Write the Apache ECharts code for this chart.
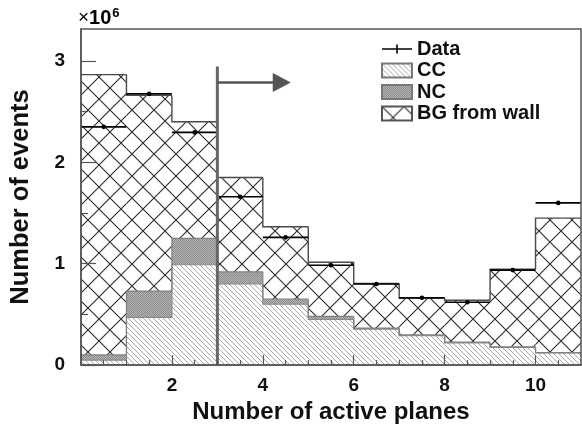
<!DOCTYPE html>
<html>
<head>
<meta charset="utf-8">
<script src="https://cdn.jsdelivr.net/npm/echarts@6.0.0/dist/echarts.min.js"></script>
<style>
html,body{margin:0;padding:0;background:#fff;}
#chart{width:582px;height:429px;}
</style>
</head>
<body>
<div id="chart"></div>
<script>
// ---- data (values in units of 10^6 events) ----
var binLow  = [0, 1, 2, 3, 4, 5, 6, 7, 8, 9, 10];
var binHigh = [1, 2, 3, 4, 5, 6, 7, 8, 9, 10, 11];
var ccValues = [0.05, 0.47, 0.99, 0.80, 0.60, 0.45, 0.355, 0.29, 0.22, 0.175, 0.12];
var ncValues = [0.05, 0.26, 0.26, 0.12, 0.05, 0.03, 0.01, 0.008, 0.006, 0.005, 0.004];
var bgValues = [2.765, 1.93, 1.15, 0.93, 0.715, 0.535, 0.44, 0.362, 0.414, 0.765, 1.326];
var dataValues = [2.35, 2.675, 2.295, 1.66, 1.26, 0.985, 0.80, 0.665, 0.62, 0.937, 1.60];
var xMajorTicks = [2, 4, 6, 8, 10];
var xMinorTicks = [0.5, 1, 1.5, 2.5, 3, 3.5, 4.5, 5, 5.5, 6.5, 7, 7.5, 8.5, 9, 9.5, 10.5];
var yMajorTicks = [0, 1, 2, 3];
var yMinorTicks = [0.5, 1.5, 2.5];
// cut annotation (data coordinates): vertical line at 3 planes and arrow
var cutX = 3, cutTop = 2.945, arrowY = 2.787, arrowEnd = 4.615;

// ---- fill patterns ----
function makeTile(size, draw) {
  var c = document.createElement('canvas');
  c.width = size; c.height = size;
  var ctx = c.getContext('2d');
  ctx.fillStyle = '#fff';
  ctx.fillRect(0, 0, size, size);
  draw(ctx, size);
  return c;
}
var ccTile = makeTile(5, function (ctx, s) {
  ctx.strokeStyle = '#a8a8a8'; ctx.lineWidth = 1;
  ctx.beginPath();
  [-s, 0, s].forEach(function (k) { ctx.moveTo(k, 0); ctx.lineTo(k + s, s); });
  ctx.stroke();
});
var ncTile = makeTile(2, function (ctx, s) {
  ctx.fillStyle = '#b6b6b6'; ctx.fillRect(0, 0, s, s);
  ctx.fillStyle = '#8a8a8a';
  ctx.fillRect(0, 0, 1, 1); ctx.fillRect(1, 1, 1, 1);
});
var bgTile = makeTile(22, function (ctx, s) {
  ctx.strokeStyle = '#2b2b2b'; ctx.lineWidth = 1.1;
  ctx.beginPath();
  [-s, 0, s].forEach(function (k) {
    ctx.moveTo(k, 0); ctx.lineTo(k + s, s);
    ctx.moveTo(k, s); ctx.lineTo(k + s, 0);
  });
  ctx.stroke();
});
var ccFill = { image: ccTile, repeat: 'repeat' };
var ncFill = { image: ncTile, repeat: 'repeat' };
var bgFill = { image: bgTile, repeat: 'repeat' };

// ---- stacked layers ----
function layerData(layers, idx) {
  var out = [];
  for (var i = 0; i < binLow.length; i++) {
    var base = 0, prevTop = null;
    for (var j = 0; j < idx; j++) base += layers[j][i];
    var top = base + layers[idx][i];
    if (i > 0) {
      prevTop = 0;
      for (var j2 = 0; j2 <= idx; j2++) prevTop += layers[j2][i - 1];
    }
    out.push([binLow[i], binHigh[i], base, top, prevTop === null ? top : prevTop]);
  }
  return out;
}
var layers = [ccValues, ncValues, bgValues];

function histRender(fill, stroke, lw) {
  return function (params, api) {
    var lo = api.value(0), hi = api.value(1), base = api.value(2), top = api.value(3), prev = api.value(4);
    var p0 = api.coord([lo, top]);
    var p1 = api.coord([hi, base]);
    var pPrev = api.coord([lo, prev]);
    var pTopR = api.coord([hi, top]);
    return {
      type: 'group',
      children: [
        { type: 'rect', shape: { x: p0[0], y: p0[1], width: p1[0] - p0[0], height: p1[1] - p0[1] },
          style: { fill: fill }, z2: 1 },
        { type: 'polyline', shape: { points: [pPrev, p0, pTopR] },
          style: { stroke: stroke, lineWidth: lw, fill: null }, z2: 10 }
      ]
    };
  };
}

var chart = echarts.init(document.getElementById('chart'), null, { renderer: 'canvas' });
var axisColor = '#555';
var fontFam = 'Liberation Sans, Arial, sans-serif';
var labelFont = { fontSize: 19, fontWeight: 'bold', color: '#111', fontFamily: fontFam };

chart.setOption({
  animation: false,
  backgroundColor: '#fff',
  grid: { left: 79, top: 29, right: 1, bottom: 63, show: true, z: 10, borderColor: axisColor, borderWidth: 1.5, backgroundColor: 'transparent' },
  graphic: [{
    type: 'text', left: 78, top: 7,
    style: {
      text: '{a|×}{b|10}{c|6}',
      rich: {
        a: { fontSize: 19, color: '#111', fontFamily: fontFam },
        b: { fontSize: 20, fontWeight: 'bold', color: '#111', fontFamily: fontFam },
        c: { fontSize: 13, fontWeight: 'bold', color: '#111', fontFamily: fontFam, padding: [0, 0, 9, 1] }
      }
    }
  }],
  legend: {
    orient: 'vertical', left: 381, top: 39, padding: 0,
    itemWidth: 30, itemHeight: 14, itemGap: 1.5,
    textStyle: { fontSize: 20, fontWeight: 'bold', color: '#111', lineHeight: 20, fontFamily: fontFam },
    data: [
      { name: 'Data', icon: 'path://M0,6.3H30V7.7H0Z M14.2,2.5H15.8V11.5H14.2Z' },
      { name: 'CC', icon: 'rect' },
      { name: 'NC', icon: 'rect' },
      { name: 'BG from wall', icon: 'rect' }
    ],
    selectedMode: false
  },
  xAxis: [{
    type: 'value', min: 0, max: 11, position: 'bottom', z: 10,
    axisLine: { show: true, onZero: false, lineStyle: { color: axisColor, width: 1.5 } },
    axisTick: { show: true, inside: true, length: 10, customValues: xMajorTicks, lineStyle: { color: axisColor, width: 1.2 } },
    axisLabel: Object.assign({ customValues: xMajorTicks, margin: 11 }, labelFont),
    splitLine: { show: false },
    name: 'Number of active planes', nameLocation: 'middle', nameGap: 32,
    nameTextStyle: { fontSize: 24, fontWeight: 'bold', color: '#111', fontFamily: fontFam }
  }, {
    type: 'value', min: 0, max: 11, position: 'bottom', z: 10,
    axisLine: { show: false },
    axisTick: { show: true, inside: true, length: 5, customValues: xMinorTicks, lineStyle: { color: axisColor, width: 1.2 } },
    axisLabel: { show: false, customValues: xMinorTicks },
    splitLine: { show: false }
  }],
  yAxis: [{
    type: 'value', min: 0, max: 3.315, z: 10,
    axisLine: { show: true, onZero: false, lineStyle: { color: axisColor, width: 1.5 } },
    axisTick: { show: true, inside: true, length: 15, customValues: yMajorTicks, lineStyle: { color: axisColor, width: 1.2 } },
    axisLabel: Object.assign({ customValues: yMajorTicks, margin: 16 }, labelFont),
    splitLine: { show: false },
    name: 'Number of events', nameLocation: 'middle', nameGap: 47,
    nameTextStyle: { fontSize: 25.5, fontWeight: 'bold', color: '#111', fontFamily: fontFam }
  }, {
    type: 'value', min: 0, max: 3.315, position: 'left', z: 10,
    axisLine: { show: false },
    axisTick: { show: true, inside: true, length: 7, customValues: yMinorTicks, lineStyle: { color: axisColor, width: 1.2 } },
    axisLabel: { show: false, customValues: yMinorTicks },
    splitLine: { show: false }
  }],
  series: [
    { name: 'CC', type: 'custom', xAxisIndex: 0, yAxisIndex: 0, z: 2,
      itemStyle: { color: ccFill, borderColor: '#777', borderWidth: 1 },
      renderItem: histRender(ccFill, '#8a8a8a', 1.2), data: layerData(layers, 0) },
    { name: 'NC', type: 'custom', xAxisIndex: 0, yAxisIndex: 0, z: 2,
      itemStyle: { color: ncFill, borderColor: '#777', borderWidth: 1 },
      renderItem: histRender(ncFill, '#808080', 1.2), data: layerData(layers, 1) },
    { name: 'BG from wall', type: 'custom', xAxisIndex: 0, yAxisIndex: 0, z: 2,
      itemStyle: { color: bgFill, borderColor: '#555', borderWidth: 1 },
      renderItem: histRender(bgFill, '#4a4a4a', 1.4), data: layerData(layers, 2) },
    { name: 'Data', type: 'custom', xAxisIndex: 0, yAxisIndex: 0, z: 3,
      itemStyle: { color: '#000' },
      data: dataValues.map(function (v, i) { return [binLow[i], binHigh[i], v]; }),
      renderItem: function (params, api) {
        var lo = api.coord([api.value(0), api.value(2)]);
        var hi = api.coord([api.value(1), api.value(2)]);
        var c = api.coord([(api.value(0) + api.value(1)) / 2, api.value(2)]);
        return { type: 'group', children: [
          { type: 'line', shape: { x1: lo[0], y1: lo[1], x2: hi[0], y2: hi[1] }, style: { stroke: '#000', lineWidth: 1.6 }, z2: 20 },
          { type: 'circle', shape: { cx: c[0], cy: c[1], r: 2.3 }, style: { fill: '#000' }, z2: 21 }
        ]};
      }
    },
    { name: 'cut', type: 'custom', xAxisIndex: 0, yAxisIndex: 0, z: 4, silent: true,
      data: [[cutX, cutTop, arrowY, arrowEnd]],
      renderItem: function (params, api) {
        var b = api.coord([api.value(0), 0]);
        var t = api.coord([api.value(0), api.value(1)]);
        var a0 = api.coord([api.value(0), api.value(2)]);
        var a1 = api.coord([api.value(3), api.value(2)]);
        var headLen = 18, headHalf = 9.5;
        return { type: 'group', children: [
          { type: 'line', shape: { x1: b[0], y1: b[1], x2: t[0], y2: t[1] }, style: { stroke: '#666', lineWidth: 3 } },
          { type: 'line', shape: { x1: a0[0], y1: a0[1], x2: a1[0] - headLen + 1, y2: a1[1] }, style: { stroke: '#555', lineWidth: 2.6 } },
          { type: 'polygon', shape: { points: [[a1[0], a1[1]], [a1[0] - headLen, a1[1] - headHalf], [a1[0] - headLen, a1[1] + headHalf]] }, style: { fill: '#555' } }
        ]};
      }
    }
  ]
});
</script>
</body>
</html>
